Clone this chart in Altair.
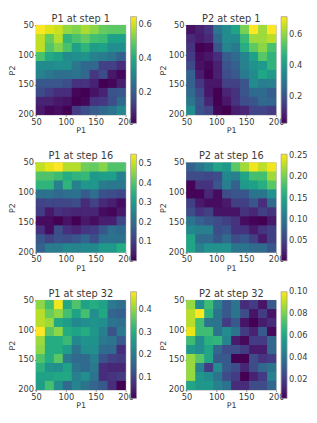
import altair as alt
import pandas as pd

edges = [50, 65, 80, 95, 110, 125, 140, 155, 170, 185, 200]

p1_step1 = [
 [.65,.62,.60,.55,.53,.57,.54,.50,.49,.49],
 [.59,.50,.58,.43,.47,.50,.46,.45,.38,.38],
 [.59,.48,.53,.47,.38,.43,.37,.38,.33,.33],
 [.47,.40,.38,.32,.33,.34,.30,.28,.26,.21],
 [.32,.32,.33,.33,.27,.23,.23,.14,.14,.10],
 [.30,.27,.25,.25,.26,.23,.12,.16,.06,.03],
 [.19,.19,.19,.17,.11,.11,.08,.02,.03,.07],
 [.16,.13,.10,.10,.03,.02,.05,.08,.18,.19],
 [.08,.08,.06,.05,.02,.03,.11,.12,.17,.23],
 [.06,.03,.04,.02,.13,.17,.20,.23,.26,.31],
]
p2_step1 = [
 [.06,.09,.13,.30,.36,.43,.58,.72,.62,.72],
 [.11,.08,.11,.26,.36,.36,.50,.62,.62,.65],
 [.13,.03,.04,.21,.34,.31,.46,.55,.60,.52],
 [.15,.05,.07,.12,.23,.27,.34,.42,.54,.48],
 [.18,.06,.04,.09,.21,.24,.33,.38,.40,.48],
 [.24,.08,.03,.09,.19,.22,.31,.36,.44,.40],
 [.24,.14,.07,.07,.16,.16,.21,.36,.32,.33],
 [.27,.18,.07,.03,.10,.13,.21,.27,.27,.23],
 [.30,.21,.10,.03,.07,.13,.19,.21,.26,.25],
 [.36,.20,.17,.04,.02,.08,.10,.17,.17,.15],
]
p1_step16 = [
 [.50,.53,.55,.49,.49,.43,.42,.45,.40,.40],
 [.40,.40,.38,.34,.36,.37,.30,.31,.31,.24],
 [.36,.36,.24,.36,.24,.29,.29,.23,.22,.22],
 [.21,.21,.19,.20,.21,.16,.20,.14,.13,.12],
 [.11,.12,.12,.12,.13,.07,.11,.07,.05,.02],
 [.10,.04,.08,.07,.06,.06,.06,.02,.01,.04],
 [.02,.02,.005,.03,.005,.04,.02,.05,.05,.12],
 [.08,.02,.13,.08,.06,.09,.10,.15,.20,.19],
 [.15,.11,.14,.13,.15,.18,.13,.20,.21,.21],
 [.17,.23,.23,.26,.25,.26,.26,.30,.30,.34],
]
p2_step16 = [
 [.08,.10,.12,.15,.14,.19,.22,.25,.23,.25],
 [.06,.06,.055,.06,.12,.11,.15,.18,.18,.22],
 [.005,.04,.04,.07,.11,.08,.14,.145,.16,.19],
 [.005,.005,.03,.01,.06,.07,.07,.10,.10,.13],
 [.05,.02,.01,.01,.02,.05,.05,.07,.035,.09],
 [.06,.04,.05,.015,.015,.015,.04,.03,.05,.04],
 [.10,.08,.07,.06,.05,.04,.01,.005,.003,.02],
 [.12,.11,.11,.06,.07,.04,.04,.02,.04,.05],
 [.15,.09,.09,.07,.09,.06,.07,.05,.02,.05],
 [.15,.11,.13,.13,.13,.10,.10,.09,.09,.07],
]
p1_step32 = [
 [.40,.34,.47,.29,.35,.28,.30,.28,.20,.18],
 [.43,.37,.40,.34,.28,.34,.24,.29,.16,.15],
 [.43,.41,.29,.27,.23,.24,.25,.24,.19,.18],
 [.48,.36,.40,.30,.28,.30,.26,.21,.13,.20],
 [.41,.30,.30,.33,.23,.25,.25,.20,.19,.14],
 [.40,.30,.30,.27,.19,.24,.24,.17,.17,.07],
 [.35,.30,.36,.20,.17,.17,.21,.13,.10,.09],
 [.31,.25,.24,.28,.19,.17,.20,.07,.06,.06],
 [.28,.28,.29,.29,.21,.24,.19,.07,.08,.09],
 [.27,.34,.24,.17,.22,.19,.16,.14,.07,.01],
]
p2_step32 = [
 [.085,.05,.07,.045,.03,.04,.015,.02,.008,.03],
 [.09,.10,.065,.04,.03,.04,.025,.008,.02,.008],
 [.09,.07,.04,.04,.02,.03,.008,.003,.01,.015],
 [.097,.07,.07,.04,.05,.04,.02,.012,.03,.005],
 [.07,.05,.065,.067,.047,.01,.005,.02,.02,.035],
 [.055,.05,.06,.035,.025,.025,.02,.01,.01,.035],
 [.085,.075,.06,.03,.03,.003,.003,.025,.017,.02],
 [.085,.045,.02,.05,.03,.025,.013,.025,.035,.04],
 [.085,.055,.05,.04,.025,.02,.003,.012,.02,.045],
 [.06,.055,.055,.045,.04,.015,.015,.025,.025,.035],
]

panels = [
 ("P1 at step 1", p1_step1, [.2,.4,.6], [.02,.65], ".1f"),
 ("P2 at step 1", p2_step1, [.2,.4,.6], [.03,.72], ".1f"),
 ("P1 at step 16", p1_step16, [.1,.2,.3,.4,.5], [.005,.55], ".1f"),
 ("P2 at step 16", p2_step16, [.05,.10,.15,.20,.25], [.003,.255], ".2f"),
 ("P1 at step 32", p1_step32, [.1,.2,.3,.4], [.01,.48], ".1f"),
 ("P2 at step 32", p2_step32, [.02,.04,.06,.08,.10], [.003,.1003], ".2f"),
]

INK = "#3a3a3a"
FRAME = "#9a9a9a"
FONT = "DejaVu Sans"

def panel(title, grid, ticks, dom, fmt):
    rows = []
    for r, row in enumerate(grid):
        for c, v in enumerate(row):
            rows.append(dict(x0=edges[c], x1=edges[c+1], y0=edges[r], y1=edges[r+1],
                             xo=min(edges[c+1] + 1, 200), yo=min(edges[r+1] + 1, 200), v=v))
    df = pd.DataFrame(rows)
    def ax(t):
        return alt.Axis(title=t, values=[50,100,150,200], grid=False, domain=False,
                        tickSize=1.5, tickColor=INK, tickWidth=0.6,
                        labelFontSize=8.3, labelColor=INK, labelFont=FONT, labelFlush=False,
                        labelOverlap=False, labelPadding=1,
                        titleFontSize=8, titleFontWeight="normal", titleColor=INK,
                        titleFont=FONT, titlePadding=1)
    cscale = alt.Scale(scheme="viridis", domain=dom, nice=False, zero=False)
    legend = alt.Legend(type="gradient", title=None, orient="none", legendX=95, legendY=-8.5,
                gradientLength=107, gradientThickness=6, values=ticks, format=fmt,
                labelFontSize=8.3, labelColor=INK, labelFont=FONT, labelOverlap=False,
                labelOffset=2, gradientStrokeColor=FRAME, gradientStrokeWidth=0.7)
    xs = alt.Scale(domain=[50,200], nice=False, zero=False)
    ys = alt.Scale(domain=[200,50], nice=False, zero=False)
    base = alt.Chart(df).mark_rect(binSpacing=0).encode(
        x=alt.X("x0:Q", scale=xs, axis=ax("P1")),
        y=alt.Y("y0:Q", scale=ys, axis=ax("P2")),
        color=alt.Color("v:Q", scale=cscale, legend=legend),
    )
    under = base.encode(x2="xo:Q", y2="yo:Q")
    over = base.encode(x2="x1:Q", y2="y1:Q")
    return alt.layer(under, over).properties(
        width=90, height=90,
        title=alt.TitleParams(title, fontSize=9.8, fontWeight="normal", color=INK,
                              font=FONT, offset=-7))

chart = alt.concat(*[panel(*p) for p in panels], columns=2,
                   spacing={"row":48,"column":61}, bounds="flush"
).resolve_scale(color="independent"
).properties(padding={"left":0,"top":4.5,"right":0,"bottom":0}).configure_view(stroke=FRAME, strokeWidth=0.7)

chart.save("out.html", embed_options={"renderer": "svg", "actions": False})
